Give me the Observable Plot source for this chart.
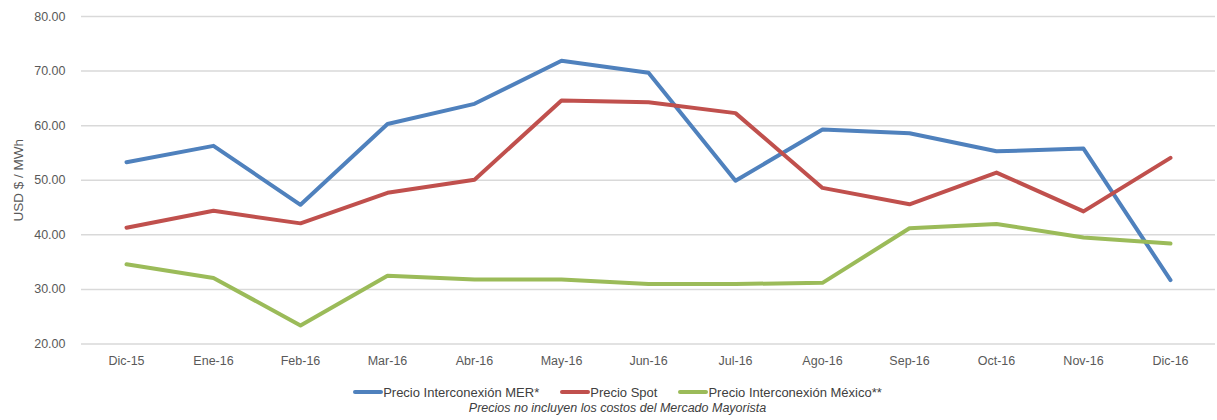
<!DOCTYPE html>
<html>
<head>
<meta charset="utf-8">
<script src="https://cdn.jsdelivr.net/npm/d3@7"></script>
<script src="https://cdn.jsdelivr.net/npm/@observablehq/plot@0.6"></script>
<style>
  body { margin: 0; background: #fff; font-family: "Liberation Sans", Arial, sans-serif; }
  #wrap { width: 1217px; }
  #legend { display: flex; justify-content: center; align-items: center; gap: 21px; font-size: 13px; color: #404040; margin-top: 9px; height: 16px; padding-left: 18px; }
  .item { display: flex; align-items: center; }
  .sw { width: 30px; height: 4px; border-radius: 2px; display: inline-block; }
  #caption { text-align: center; font-style: italic; font-size: 12.5px; color: #404040; margin-top: 1px; padding-left: 18px; }
</style>
</head>
<body>
<div id="wrap">
  <div id="chart"></div>
  <div id="legend"></div>
  <div id="caption">Precios no incluyen los costos del Mercado Mayorista</div>
</div>
<script>
const months = ["Dic-15","Ene-16","Feb-16","Mar-16","Abr-16","May-16","Jun-16","Jul-16","Ago-16","Sep-16","Oct-16","Nov-16","Dic-16"];
const mer    = [53.3, 56.3, 45.5, 60.3, 64.0, 71.9, 69.7, 49.9, 59.3, 58.6, 55.3, 55.8, 31.7];
const spot   = [41.3, 44.4, 42.1, 47.7, 50.1, 64.6, 64.3, 62.3, 48.6, 45.6, 51.4, 44.3, 54.1];
const mexico = [34.6, 32.1, 23.4, 32.5, 31.8, 31.8, 31.0, 31.0, 31.2, 41.2, 42.0, 39.5, 38.4];
const seriesNames = ["Precio Interconexión MER*", "Precio Spot", "Precio Interconexión México**"];
const seriesColors = ["#4F81BD", "#C0504D", "#9BBB59"];
const yTicks = [20, 30, 40, 50, 60, 70, 80];
const yLabel = "USD $ / MWh";

const allValues = [mer, spot, mexico];
const data = [];
allValues.forEach((vals, si) => vals.forEach((v, i) => data.push({month: months[i], value: v, series: seriesNames[si]})));

const chart = Plot.plot({
  width: 1217,
  height: 375,
  marginLeft: 81,
  marginRight: 2,
  marginTop: 16,
  marginBottom: 31.5,
  style: { fontFamily: '"Liberation Sans", Arial, sans-serif', fontSize: "12px", color: "#595959" },
  x: { type: "point", domain: months, padding: 0.5 },
  y: { domain: [20, 80] },
  color: { domain: seriesNames, range: seriesColors },
  marks: [
    Plot.ruleY(yTicks, { stroke: "#d9d9d9", strokeWidth: 1.5 }),
    Plot.axisY(yTicks, { tickSize: 0, tickPadding: 16, tickFormat: d => d.toFixed(2), label: null, fontSize: 12.5 }),
    Plot.text([yLabel], { frameAnchor: "left", textAnchor: "middle", lineAnchor: "middle", dx: -63, rotate: -90, fontSize: 13.5, fill: "#595959" }),
    Plot.axisX({ tickSize: 0, tickPadding: 12, label: null, fontSize: 12.5 }),
    Plot.line(data, { x: "month", y: "value", z: "series", stroke: "series", strokeWidth: 4, strokeLinecap: "round", strokeLinejoin: "round" })
  ]
});
document.getElementById("chart").appendChild(chart);

const legend = document.getElementById("legend");
seriesNames.forEach((name, i) => {
  const it = document.createElement("div");
  it.className = "item";
  const sw = document.createElement("span");
  sw.className = "sw";
  sw.style.background = seriesColors[i];
  const t = document.createElement("span");
  t.textContent = name;
  it.appendChild(sw); it.appendChild(t);
  legend.appendChild(it);
});
</script>
</body>
</html>
